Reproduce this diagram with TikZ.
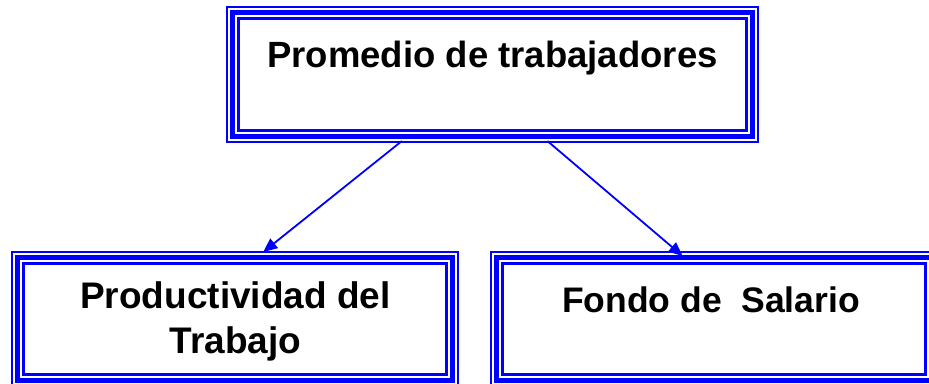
\documentclass[tikz,border=0pt]{standalone}
\usepackage{fontspec}
\setmainfont{Liberation Sans}
\usetikzlibrary{arrows.meta,calc}
\definecolor{bblue}{RGB}{0,0,255}
\tikzset{
  outerbox/.style={draw=bblue,line width=2pt,inner sep=0pt,rectangle},
  thickline/.style={draw=bblue,line width=5pt},
  thinline/.style={draw=bblue,line width=3pt},
  lbl/.style={anchor=base,inner sep=0pt,font=\bfseries},
  arr/.style={draw=bblue,line width=1.8pt,-{Triangle[length=14pt,width=12pt]}}
}
\newcommand{\tribordes}[1]{%
  \draw[thickline] ([shift={(6.5,6.5)}]#1.north west) rectangle ([shift={(-6.5,-6.5)}]#1.south east);
  \draw[thinline] ([shift={(12.5,12.5)}]#1.north west) rectangle ([shift={(-12.5,-12.5)}]#1.south east);
}
\begin{document}
\begin{tikzpicture}[x=1pt,y=-1pt]
\useasboundingbox (0,0) rectangle (929,383);
\clip (0,0) rectangle (929,383);
% boxes
\node[outerbox,minimum width=531pt,minimum height=135pt] (top) at (492.5,74.5) {};
\tribordes{top}
\node[outerbox,minimum width=446pt,minimum height=134pt] (left) at (235,319) {};
\tribordes{left}
\node[outerbox,minimum width=446pt,minimum height=134pt] (right) at (714,319) {};
\tribordes{right}
% texts
\node[lbl,font=\bfseries\fontsize{36.5}{44}\selectfont] (t1) at (492.5,67) {Promedio de trabajadores};
\node[lbl,font=\bfseries\fontsize{37}{44}\selectfont] (t2) at (235.5,308) {Productividad del};
\node[lbl,font=\bfseries\fontsize{37}{44}\selectfont] (t3) at (235.5,353) {Trabajo};
\node[lbl,font=\bfseries\fontsize{35.5}{44}\selectfont] (t4) at (711,312) {Fondo de\ \ Salario};
% connectors
\coordinate (s1) at ($(top.south west)!0.33!(top.south east)+(0,-2)$);
\coordinate (s2) at ($(top.south west)!0.603!(top.south east)+(0,-2)$);
\coordinate (e1) at ($(left.north west)!0.563!(left.north east)+(0,1)$);
\coordinate (e2) at ($(right.north west)!0.43!(right.north east)+(0,5)$);
\draw[arr] (s1) -- (e1);
\draw[arr] (s2) -- (e2);
\end{tikzpicture}
\end{document}
